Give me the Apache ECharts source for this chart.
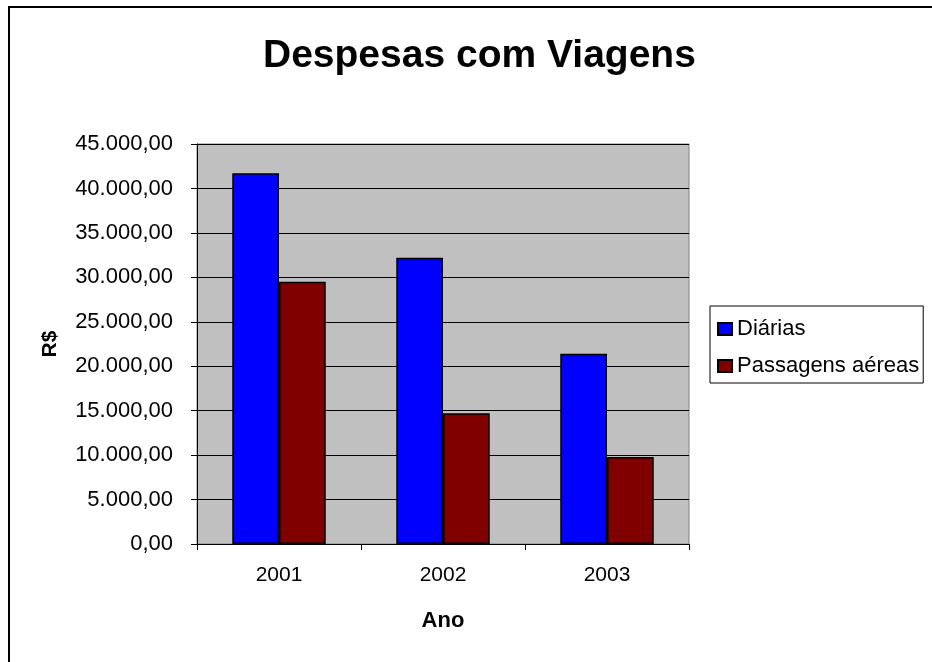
<!DOCTYPE html>
<html>
<head>
<meta charset="utf-8">
<script src="https://cdn.jsdelivr.net/npm/echarts@6/dist/echarts.min.js"></script>
<style>
  html, body { margin: 0; padding: 0; background: #fff; }
  #chart { width: 932px; height: 662px; }
</style>
</head>
<body>
<div id="chart"></div>
<script>
// dados
const anos = ['2001', '2002', '2003']
const diarias = [41700, 32200, 21400]
const passagens = [29500, 14700, 9800]
const seriesNames = ['Diárias', 'Passagens aéreas']

// 45000 -> "45.000,00"
function brl(v) {
    const parts = v.toFixed(2).split('.')
    return parts[0].replace(/\B(?=(\d{3})+(?!\d))/g, '.') + ',' + parts[1]
}

const font = 'Arial, "Liberation Sans", sans-serif'
const myChart = echarts.init(document.getElementById('chart'))

const option = {
    animation: false,
    backgroundColor: '#fff',
    title: {
        text: 'Despesas com Viagens',
        left: 258,
        top: 32,
        textStyle: { fontFamily: font, fontSize: 39, fontWeight: 'bold', color: '#000' }
    },
    graphic: [{
        type: 'rect',
        shape: { x: 9, y: 7, width: 1000, height: 1000 },
        style: { fill: 'none', stroke: '#000', lineWidth: 2 },
        silent: true
    }],
    legend: {
        orient: 'vertical',
        left: 710,
        top: 306,
        padding: [12, 4, 6, 7],
        itemGap: 15,
        itemWidth: 14,
        itemHeight: 12,
        borderColor: '#000',
        borderWidth: 1,
        icon: 'rect',
        data: seriesNames,
        textStyle: { fontFamily: font, fontSize: 22, color: '#000' }
    },
    grid: {
        left: 197,
        top: 144,
        right: 243,
        bottom: 118,
        show: true,
        backgroundColor: '#C0C0C0',
        borderColor: '#808080',
        borderWidth: 1
    },
    xAxis: {
        type: 'category',
        data: anos,
        name: 'Ano',
        nameLocation: 'middle',
        nameGap: 66,
        nameTextStyle: { fontFamily: font, fontSize: 22, fontWeight: 'bold', color: '#000' },
        axisLine: { lineStyle: { color: '#000', width: 1 } },
        axisTick: { show: true, length: 6, lineStyle: { color: '#000' } },
        axisLabel: { fontFamily: font, fontSize: 21, color: '#000', margin: 21 }
    },
    yAxis: {
        type: 'value',
        min: 0,
        max: 45000,
        interval: 5000,
        name: 'R$',
        nameLocation: 'middle',
        nameGap: 136,
        nameTextStyle: { fontFamily: font, fontSize: 21, fontWeight: 'bold', color: '#000' },
        axisLine: { show: true, lineStyle: { color: '#000', width: 1 } },
        axisTick: { show: true, length: 6, lineStyle: { color: '#000' } },
        axisLabel: { fontFamily: font, fontSize: 22, color: '#000', margin: 24, formatter: brl },
        splitLine: { show: true, lineStyle: { color: '#000', width: 1 } }
    },
    series: [
        {
            name: seriesNames[0],
            type: 'bar',
            data: diarias,
            barGap: '0%',
            barCategoryGap: '43%',
            itemStyle: { color: '#0000FF', borderColor: '#000', borderWidth: 1.5 }
        },
        {
            name: seriesNames[1],
            type: 'bar',
            data: passagens,
            itemStyle: { color: '#800000', borderColor: '#000', borderWidth: 1.5 }
        }
    ]
}

option && myChart.setOption(option)
</script>
</body>
</html>
